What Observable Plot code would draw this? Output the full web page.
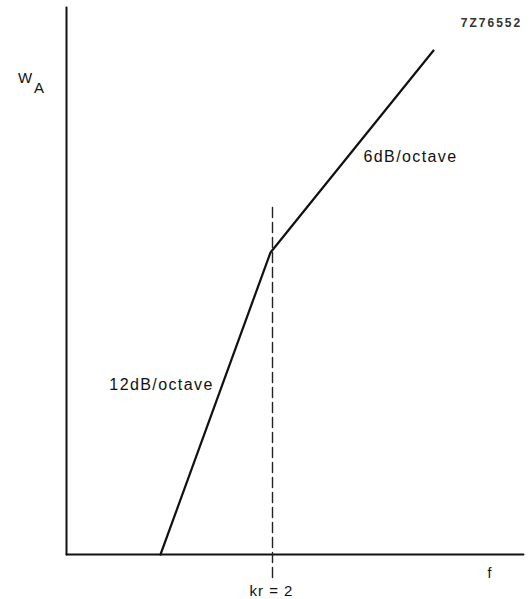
<!DOCTYPE html>
<html>
<head>
<meta charset="utf-8">
<script src="https://cdn.jsdelivr.net/npm/d3@7"></script>
<script src="https://cdn.jsdelivr.net/npm/@observablehq/plot@0.6"></script>
<style>
  html, body { margin: 0; padding: 0; background: #fff; }
  #chart svg { display: block; }
</style>
</head>
<body>
<div id="chart"></div>
<script>
// Response curve break points (arbitrary units: frequency f, response W_A)
const curveF = [94, 204, 367];
const curveW = [0, 302, 504];

// Axis extents
const axisF = [0, 457];
const axisW = [0, 547];

// Break frequency marker (kr = 2)
const breakF = 206;
const breakW = [-23, 350];

// Annotation texts and anchor points
const labelTexts = ["W", "A", "7Z76552", "6dB/octave", "12dB/octave", "kr = 2", "f"];
const labelF = [-41.5, -27.5, 425, 344, 95, 205, 423];
const labelW = [476, 466, 531, 398, 170, -37, -19];

const curve = curveF.map((f, i) => ({f, w: curveW[i]}));
const labels = labelTexts.map((t, i) => ({t, f: labelF[i], w: labelW[i]}));
const dash = breakW.map(w => ({f: breakF, w}));

const pick = (...names) => labels.filter(d => names.includes(d.t));

const chart = Plot.plot({
  width: 532,
  height: 599,
  marginLeft: 66,
  marginRight: 1,
  marginTop: 7,
  marginBottom: 45,
  x: {domain: [0, 465], axis: null},
  y: {domain: [0, 547], axis: null},
  style: {fontFamily: "'Liberation Sans', Arial, sans-serif", background: "#fff"},
  marks: [
    Plot.line(axisW.map(w => ({f: 0, w})), {x: "f", y: "w", stroke: "#111", strokeWidth: 2, clip: false}),
    Plot.line(axisF.map(f => ({f, w: 0})), {x: "f", y: "w", stroke: "#111", strokeWidth: 2, clip: false}),
    Plot.line(dash, {x: "f", y: "w", stroke: "#222", strokeWidth: 1.4, strokeDasharray: "10,5", clip: false}),
    Plot.line(curve, {x: "f", y: "w", stroke: "#111", strokeWidth: 2.2, clip: false}),
    Plot.text(pick("W"), {x: "f", y: "w", text: "t", fontSize: 15, fill: "#111"}),
    Plot.text(pick("A"), {x: "f", y: "w", text: "t", fontSize: 15, fill: "#111"}),
    Plot.text(pick("7Z76552"), {x: "f", y: "w", text: "t", fontSize: 12, fontWeight: "bold", fill: "#333"}),
    Plot.text(pick("6dB/octave", "12dB/octave"), {x: "f", y: "w", text: "t", fontSize: 16, fill: "#111"}),
    Plot.text(pick("kr = 2"), {x: "f", y: "w", text: "t", fontSize: 15, fill: "#111"}),
    Plot.text(pick("f"), {x: "f", y: "w", text: "t", fontSize: 14, fill: "#111"})
  ]
});
document.getElementById("chart").appendChild(chart);

// Wider letter spacing as in the original lettering
const spacing = {"7Z76552": "2px", "6dB/octave": "1.4px", "12dB/octave": "1.4px", "kr = 2": "1px"};
d3.select(chart).selectAll("text").each(function () {
  const s = spacing[this.textContent];
  if (s) this.setAttribute("letter-spacing", s);
});
</script>
</body>
</html>
